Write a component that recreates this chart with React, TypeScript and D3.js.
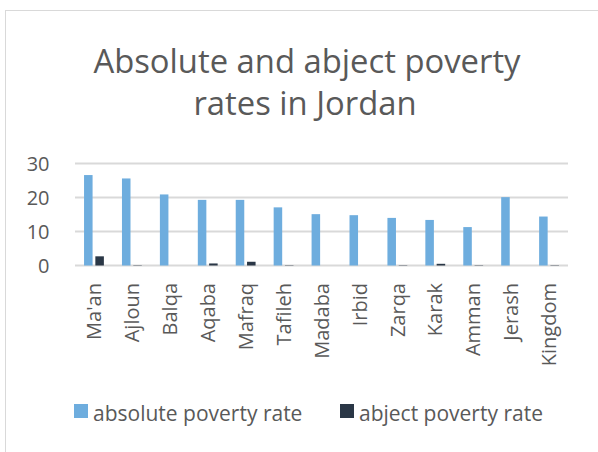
import React from "react";
import * as d3 from "d3";

const categories = ["Ma'an", "Ajloun", "Balqa", "Aqaba", "Mafraq", "Tafileh", "Madaba", "Irbid", "Zarqa", "Karak", "Amman", "Jerash", "Kingdom"];
const absoluteRate = [26.6, 25.6, 20.9, 19.3, 19.3, 17.1, 15.1, 14.8, 14.0, 13.4, 11.3, 20.1, 14.4];
const abjectRate = [2.7, 0.1, 0, 0.6, 1.1, 0.1, 0, 0, 0.1, 0.5, 0.1, 0, 0.1];
const seriesNames = ["absolute poverty rate", "abject poverty rate"];
const yTicks = [0, 10, 20, 30];

const W = 598;
const H = 452;
const colors = ["#6EADDE", "#2A3746"];
const textColor = "#595959";
const gridColor = "#D9D9D9";
const font = "'Open Sans', sans-serif";

export default function App() {
  const x = d3.scaleBand<string>().domain(categories).range([75, 568]).padding(0);
  const inner = d3
    .scaleBand<string>()
    .domain(seriesNames)
    .range([0, x.step()])
    .paddingInner(0.245)
    .paddingOuter(0.8);
  const y = d3.scaleLinear().domain([0, 30]).range([265.5, 163.5]);
  const series = [absoluteRate, abjectRate];

  return (
    <svg width={W} height={H} style={{ position: "absolute", left: 0, top: 0 }}>
      <rect x={0} y={0} width={W} height={H} fill="#fff" />
      <rect x={5.5} y={10.5} width={W} height={H} fill="none" stroke={gridColor} strokeWidth={1} />
      <text x={307} y={72.5} textAnchor="middle" fontFamily={font} fontSize={32.8} fill={textColor}>
        Absolute and abject poverty
      </text>
      <text x={305} y={115} textAnchor="middle" fontFamily={font} fontSize={32.8} fill={textColor}>
        rates in Jordan
      </text>
      {yTicks.map((t) => (
        <g key={t}>
          <line x1={75} x2={568} y1={y(t)} y2={y(t)} stroke={gridColor} strokeWidth={2} />
          <text x={49.5} y={y(t)} dy="0.36em" textAnchor="end" fontFamily={font} fontSize={20} fill={textColor}>
            {t}
          </text>
        </g>
      ))}
      {series.map((vals, si) =>
        vals.map((v, i) => (
          <rect
            key={si + "-" + i}
            x={(x(categories[i]) as number) + (inner(seriesNames[si]) as number)}
            y={y(v)}
            width={inner.bandwidth()}
            height={y(0) - y(v)}
            fill={colors[si]}
          />
        ))
      )}
      {categories.map((c) => {
        const cx = (x(c) as number) + x.bandwidth() / 2;
        return (
          <text
            key={c}
            transform={`translate(${cx},283) rotate(-90)`}
            textAnchor="end"
            dy="0.36em"
            fontFamily={font}
            fontSize={20}
            fill={textColor}
          >
            {c}
          </text>
        );
      })}
      <rect x={74} y={404} width={14} height={14} fill={colors[0]} />
      <text x={93} y={420.5} fontFamily={font} fontSize={21} fill={textColor}>
        {seriesNames[0]}
      </text>
      <rect x={340} y={404} width={14} height={14} fill={colors[1]} />
      <text x={359} y={420.5} fontFamily={font} fontSize={21} fill={textColor}>
        {seriesNames[1]}
      </text>
    </svg>
  );
}
